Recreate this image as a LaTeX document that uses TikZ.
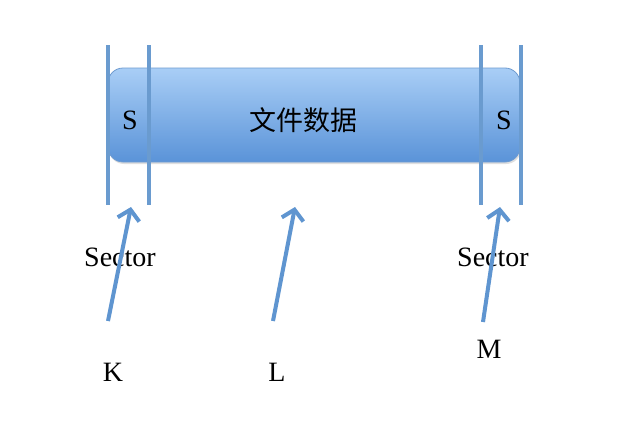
\documentclass[tikz,border=0pt]{standalone}
\usepackage{fontspec}
\setmainfont{Liberation Serif}
\newfontfamily\cjk{Noto Sans CJK SC}
\usetikzlibrary{arrows.meta,shadows}
\definecolor{barTop}{HTML}{A9CEF6}
\definecolor{barBot}{HTML}{5A93D8}
\definecolor{barEdge}{HTML}{6E9BD0}
\definecolor{lineBlue}{HTML}{6A9BCF}
\definecolor{arrBlue}{HTML}{5F95D0}
\tikzset{
  bar/.style={rounded corners=15pt, top color=barTop, bottom color=barBot, draw=barEdge, line width=0.8pt,
    drop shadow={shadow xshift=1pt, shadow yshift=-2pt, opacity=0.25}},
  sline/.style={draw=lineBlue, line width=3.2pt},
  ptr/.style={draw=arrBlue, line width=4pt, -{Straight Barb[length=10pt,width=22pt,line width=4pt]}},
  lbl/.style={font=\fontsize{28}{28}\selectfont, inner sep=0pt},
}
\begin{document}
\begin{tikzpicture}[x=1pt,y=-1pt]
\useasboundingbox (0,0) rectangle (637,431);
\fill[white] (0,0) rectangle (637,431);
\node[bar, minimum width=412pt, minimum height=94pt, inner sep=0pt] (bar) at (314,115) {};
\node[lbl] (s1) at (130,120) {S};
\node[lbl] (s2) at (504,120) {S};
\node[inner sep=0pt, font=\cjk\fontsize{27}{27}\selectfont] (data) at (303,120) {文件数据};
\coordinate (a1) at (108,45); \coordinate (a2) at (108,205);
\coordinate (b1) at (149,45); \coordinate (b2) at (149,205);
\coordinate (c1) at (481,45); \coordinate (c2) at (481,205);
\coordinate (d1) at (521,45); \coordinate (d2) at (521,205);
\draw[sline] (a1) -- (a2);
\draw[sline] (b1) -- (b2);
\draw[sline] (c1) -- (c2);
\draw[sline] (d1) -- (d2);
\node[lbl] (sec1) at (120,257) {Sector};
\node[lbl] (sec2) at (493,257) {Sector};
\node[lbl] (k) at (113,372) {K};
\node[lbl] (l) at (277,372) {L};
\node[lbl] (m) at (489,349) {M};
\coordinate (k0) at (108,321); \coordinate (k1) at (131,207);
\coordinate (l0) at (273,321); \coordinate (l1) at (295,207);
\coordinate (m0) at (483,322); \coordinate (m1) at (500,207);
\draw[ptr] (k0) -- (k1);
\draw[ptr] (l0) -- (l1);
\draw[ptr] (m0) -- (m1);
\end{tikzpicture}
\end{document}
